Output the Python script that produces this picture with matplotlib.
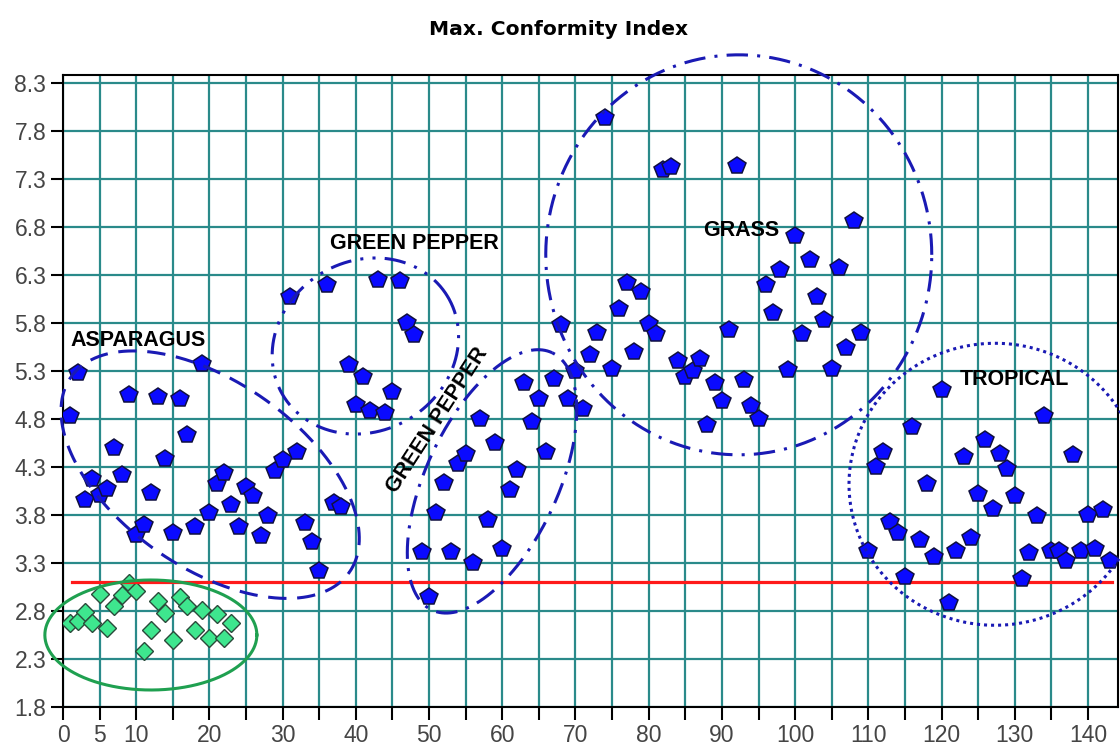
import numpy as np
import matplotlib.pyplot as plt

# Max. Conformity Index per sample (blue pentagons, samples 1..143)
blue_x = list(range(1, 144))
blue_y = [4.83, 5.28, 3.96, 4.17, 4.01, 4.07, 4.50, 4.22, 5.05, 3.59,   # 1-10
          3.70, 4.03, 5.03, 4.38, 3.61, 5.01, 4.63, 3.68, 5.37, 3.82,   # 11-20
          4.12, 4.24, 3.90, 3.67, 4.09, 4.00, 3.58, 3.79, 4.26, 4.37,   # 21-30
          6.07, 4.46, 3.72, 3.52, 3.22, 6.20, 3.92, 3.88, 5.36, 4.95,   # 31-40
          5.24, 4.88, 6.25, 4.86, 5.08, 6.24, 5.80, 5.68, 3.41, 2.95,   # 41-50
          3.82, 4.13, 3.41, 4.33, 4.44, 3.30, 4.80, 3.75, 4.55, 3.45,   # 51-60
          4.06, 4.27, 5.18, 4.77, 5.01, 4.46, 5.22, 5.78, 5.01, 5.30,   # 61-70
          4.90, 5.47, 5.70, 7.93, 5.32, 5.95, 6.22, 5.50, 6.12, 5.79,   # 71-80
          5.69, 7.39, 7.42, 5.40, 5.24, 5.30, 5.42, 4.74, 5.17, 4.99,   # 81-90
          5.73, 7.44, 5.21, 4.94, 4.80, 6.20, 5.90, 6.35, 5.31, 6.71,   # 91-100
          5.69, 6.46, 6.07, 5.83, 5.32, 6.37, 5.54, 6.86, 5.70, 3.42,   # 101-110
          4.30, 4.46, 3.73, 3.61, 3.15, 4.72, 3.54, 4.12, 3.36, 5.10,   # 111-120
          2.88, 3.43, 4.40, 3.56, 4.02, 4.58, 3.86, 4.44, 4.28, 4.00,   # 121-130
          3.13, 3.40, 3.79, 4.83, 3.43, 3.43, 3.32, 4.42, 3.42, 3.80,   # 131-140
          3.45, 3.85, 3.32]                                             # 141-143

# green diamonds, samples 1..23
green_x = list(range(1, 24))
green_y = [2.68, 2.70, 2.79, 2.67, 2.98, 2.62, 2.85, 2.97, 3.09, 3.01,
           2.38, 2.60, 2.90, 2.78, 2.50, 2.95, 2.85, 2.60, 2.81, 2.52,
           2.77, 2.52, 2.68]

threshold = 3.1
threshold_span = [1.2, 143.3]

y_ticks = [1.8, 2.3, 2.8, 3.3, 3.8, 4.3, 4.8, 5.3, 5.8, 6.3, 6.8, 7.3, 7.8, 8.3]
x_ticks = list(range(0, 145, 5))
x_labels = [str(v) if v in (0, 5) or v % 10 == 0 else '' for v in x_ticks]

# group labels: text, x, y, rotation
labels = [("ASPARAGUS", 10.2, 5.62, 0),
          ("GREEN PEPPER", 48.0, 6.63, 0),
          ("GRASS", 92.6, 6.76, 0),
          ("TROPICAL", 129.9, 5.21, 0),
          ("GREEN PEPPER", 51.1, 4.79, 57)]

# group outlines: centre (data), semi-axes (px), angle (deg), style
outlines = [(20.1, 4.22, 170, 93, -35, (0, (6, 3.5))),
            (41.3, 5.56, 96, 85, 31, (0, (7, 3, 1, 3, 1, 3))),
            (58.6, 4.15, 142, 66, 65, (0, (7, 3, 1, 3))),
            (92.3, 6.51, 193, 200, 0, (0, (7, 3, 1, 3))),
            (127.3, 4.12, 146, 141, 0, (0, (1, 1.3)))]
green_outline = (12.0, 2.55, 106, 55, 0)

blue_line = '#1a1ab4'
grid_col = '#2a8a8a'


def outline(ax, cx, cy, a, b, ang, **kw):
    t = np.linspace(0, 2 * np.pi, 500)
    c0 = ax.transData.transform((cx, cy))
    th = np.deg2rad(ang)
    u, v = a * np.cos(t), b * np.sin(t)
    px = c0[0] + u * np.cos(th) - v * np.sin(th)
    py = c0[1] + u * np.sin(th) + v * np.cos(th)
    pts = ax.transData.inverted().transform(np.column_stack([px, py]))
    ax.plot(pts[:, 0], pts[:, 1], clip_on=False, **kw)


fig = plt.figure(figsize=(11.2, 7.45), dpi=100)
ax = fig.add_axes([63 / 1120, 1 - 707 / 745, (1118 - 63) / 1120, (707 - 75) / 745])
ax.set_xlim(0, 144.1)
ax.set_ylim(1.8, 8.383)

ax.set_xticks(x_ticks)
ax.set_xticklabels(x_labels)
ax.set_yticks(y_ticks)
ax.set_yticklabels([f'{v:.1f}' for v in y_ticks])
ax.grid(True, color=grid_col, lw=1.6)
ax.set_axisbelow(True)
for s in ax.spines.values():
    s.set_color('black')
    s.set_linewidth(1.5)
ax.tick_params(length=9, width=1.5, color='black', labelsize=16.5,
               labelcolor='#454545', pad=3)
for lab in ax.get_xticklabels() + ax.get_yticklabels():
    lab.set_family('Liberation Sans')

ax.plot(green_x, green_y, 'D', ms=9.5, mfc='#3ee68e', mec='#2a4a3a', mew=1.0, zorder=3)
ax.plot(threshold_span, [threshold, threshold], color='#ff1a1a', lw=2.3, zorder=4)
ax.plot(blue_x, blue_y, 'p', ms=13, mfc='#0a0aff', mec='#101040', mew=1.1, zorder=5)

for cx, cy, a, b, ang, ls in outlines:
    outline(ax, cx, cy, a, b, ang, color=blue_line, lw=2.2, ls=ls, zorder=6)
gx, gy, ga, gb, gang = green_outline
outline(ax, gx, gy, ga, gb, gang, color='#1fa050', lw=2.2, zorder=6)

for txt, x, y, rot in labels:
    ax.text(x, y, txt, ha='center', va='center', rotation=rot, fontsize=15.5,
            fontweight='bold', family='Liberation Sans', zorder=7)

fig.text(0.499, 1 - 35 / 745, 'Max. Conformity Index', ha='center', va='baseline',
         fontsize=14.6, fontweight='bold', family='DejaVu Sans')

fig.savefig('out.png', dpi=100)
